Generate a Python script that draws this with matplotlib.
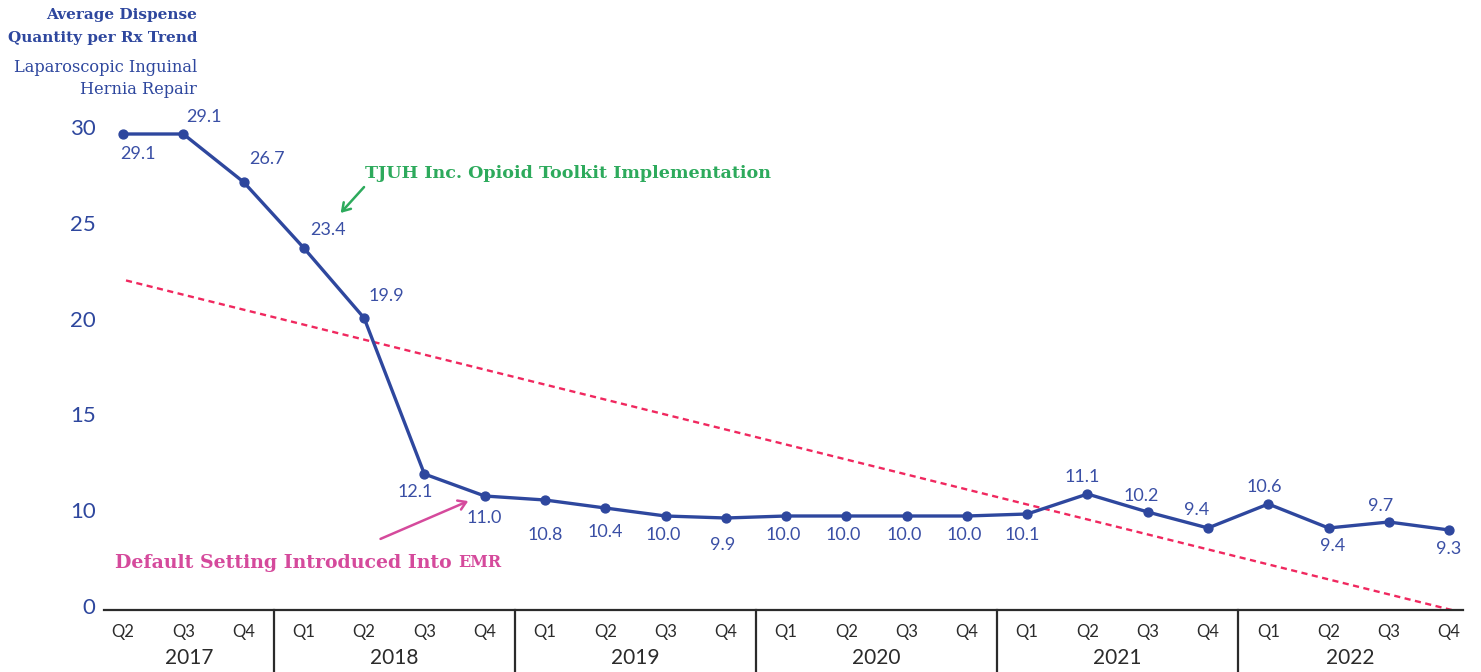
import numpy as np
import matplotlib
matplotlib.use("Agg")
import matplotlib.pyplot as plt

# ---------------- data ----------------
years = ["2017", "2018", "2019", "2020", "2021", "2022"]
quarters_per_year = [["Q2", "Q3", "Q4"], ["Q1", "Q2", "Q3", "Q4"], ["Q1", "Q2", "Q3", "Q4"],
                     ["Q1", "Q2", "Q3", "Q4"], ["Q1", "Q2", "Q3", "Q4"], ["Q1", "Q2", "Q3", "Q4"]]
values = [29.1, 29.1, 26.7, 23.4, 19.9, 12.1, 11.0, 10.8, 10.4, 10.0, 9.9,
          10.0, 10.0, 10.0, 10.0, 10.1, 11.1, 10.2, 9.4, 10.6, 9.4, 9.7, 9.3]
ytick_labels = ["0", "10", "15", "20", "25", "30"]

# label placement (pixel offsets from the point: dx right, dy down)
label_offsets = [(15, 20), (21, -17), (23, -23), (24, -18), (22, -22), (-9, 18), (0, 22),
                 (0, 35), (0, 24), (-2, 19), (-3, 27), (-3, 19), (-3, 19), (-2, 19), (-3, 19),
                 (-5, 21), (-5, -17), (-7, -16), (-11, -18), (-4, -17), (4, 18), (-8, -16), (-1, 19)]

# ---------------- style ----------------
BLUE = "#2E479E"
LABEL_BLUE = "#3A4FA5"
TREND = "#F0285F"
GREEN = "#2DAA5C"
PINK = "#D54A9C"
DARK = "#2B2B2B"
SERIF = "DejaVu Serif"
SANS = "Lato"

fig = plt.figure(figsize=(14.81, 6.72), dpi=100)
W, H = 1481, 672
ax_left, ax_right, ax_bottom, ax_top = 104, 1463, 610, 100
ax = fig.add_axes([ax_left / W, 1 - ax_bottom / H, (ax_right - ax_left) / W, (ax_bottom - ax_top) / H])

n = len(values)
x = np.arange(n)

ax.set_xlim(-0.315, 22.23)
ax.set_ylim(5.3, 30.8)

# trend line (least squares)
slope, intercept = np.polyfit(x, values, 1)
tx = np.array([0.05, n - 1 + 0.2])
ax.plot(tx, slope * tx + intercept, color=TREND, lw=1.7, dashes=(2.6, 1.9), zorder=2)

# main series
ax.plot(x, values, color=BLUE, lw=2.4, marker="o", ms=6.4, zorder=3, solid_joinstyle="round")

for xi, v, (dx, dy) in zip(x, values, label_offsets):
    ax.annotate(f"{v:.1f}", xy=(xi, v), xytext=(dx, -dy), textcoords="offset pixels",
                ha="center", va="center", fontsize=13, color=LABEL_BLUE, family=SANS)

# y axis
ytick_pos = np.linspace(5.5, 29.45, len(ytick_labels))
ax.set_yticks(ytick_pos, ytick_labels)
ax.tick_params(axis="y", length=0, pad=6, labelsize=16, labelcolor=BLUE)
for lab in ax.get_yticklabels():
    lab.set_family(SANS)

ax.set_xticks([])
for s in ["left", "top", "right"]:
    ax.spines[s].set_visible(False)
ax.spines["bottom"].set_color(DARK)
ax.spines["bottom"].set_linewidth(1.6)

# category axis (quarters / years)
trans = ax.get_xaxis_transform()
xmin, xmax = ax.get_xlim()
pos = 0
bounds = [xmin]
for yi, (yr, qs) in enumerate(zip(years, quarters_per_year)):
    for q in qs:
        ax.text(pos, -0.043, q, transform=trans, ha="center", va="center",
                fontsize=12, color=DARK, family=SANS)
        pos += 1
    bounds.append(pos - 0.5 if yi < len(years) - 1 else xmax)
for b in bounds[1:-1]:
    ax.plot([b, b], [0, -0.14], transform=trans, color=DARK, lw=1.6, clip_on=False)
for yi, yr in enumerate(years):
    cx = (bounds[yi] + bounds[yi + 1]) / 2
    ax.text(cx, -0.094, yr, transform=trans, ha="center", va="center",
            fontsize=15, color=DARK, family=SANS)

# titles
fig.text(197 / W, 1 - 15 / H, "Average Dispense", ha="right", va="center",
         fontsize=11, fontweight="bold", color=BLUE, family=SERIF)
fig.text(197 / W, 1 - 38 / H, "Quantity per Rx Trend", ha="right", va="center",
         fontsize=11, fontweight="bold", color=BLUE, family=SERIF)
fig.text(197 / W, 1 - 67 / H, "Laparoscopic Inguinal", ha="right", va="center",
         fontsize=11.7, color=BLUE, family=SERIF)
fig.text(197 / W, 1 - 89 / H, "Hernia Repair", ha="right", va="center",
         fontsize=11.7, color=BLUE, family=SERIF)

# annotations
ax.annotate("", xy=(3.58, 25.05), xytext=(4.03, 26.55),
            arrowprops=dict(arrowstyle="->,head_length=0.55,head_width=0.35", color=GREEN, lw=1.8))
ax.text(4.02, 27.1, "TJUH Inc. Opioid Toolkit Implementation", ha="left", va="center",
        fontsize=12.6, fontweight="bold", color=GREEN, family=SERIF)

ax.annotate("", xy=(5.77, 10.8), xytext=(4.23, 8.8),
            arrowprops=dict(arrowstyle="->,head_length=0.55,head_width=0.35", color=PINK, lw=1.8))
t1 = ax.text(-0.13, 7.65, "Default Setting Introduced Into ", ha="left", va="center",
             fontsize=13.6, fontweight="bold", color=PINK, family=SERIF)
ax.annotate("EMR", xy=(1, 0), xycoords=t1, xytext=(0, 0.8), textcoords="offset points",
            ha="left", va="bottom", fontsize=11.5, fontweight="bold", color=PINK, family=SERIF)

fig.savefig("out.png", dpi=100)
